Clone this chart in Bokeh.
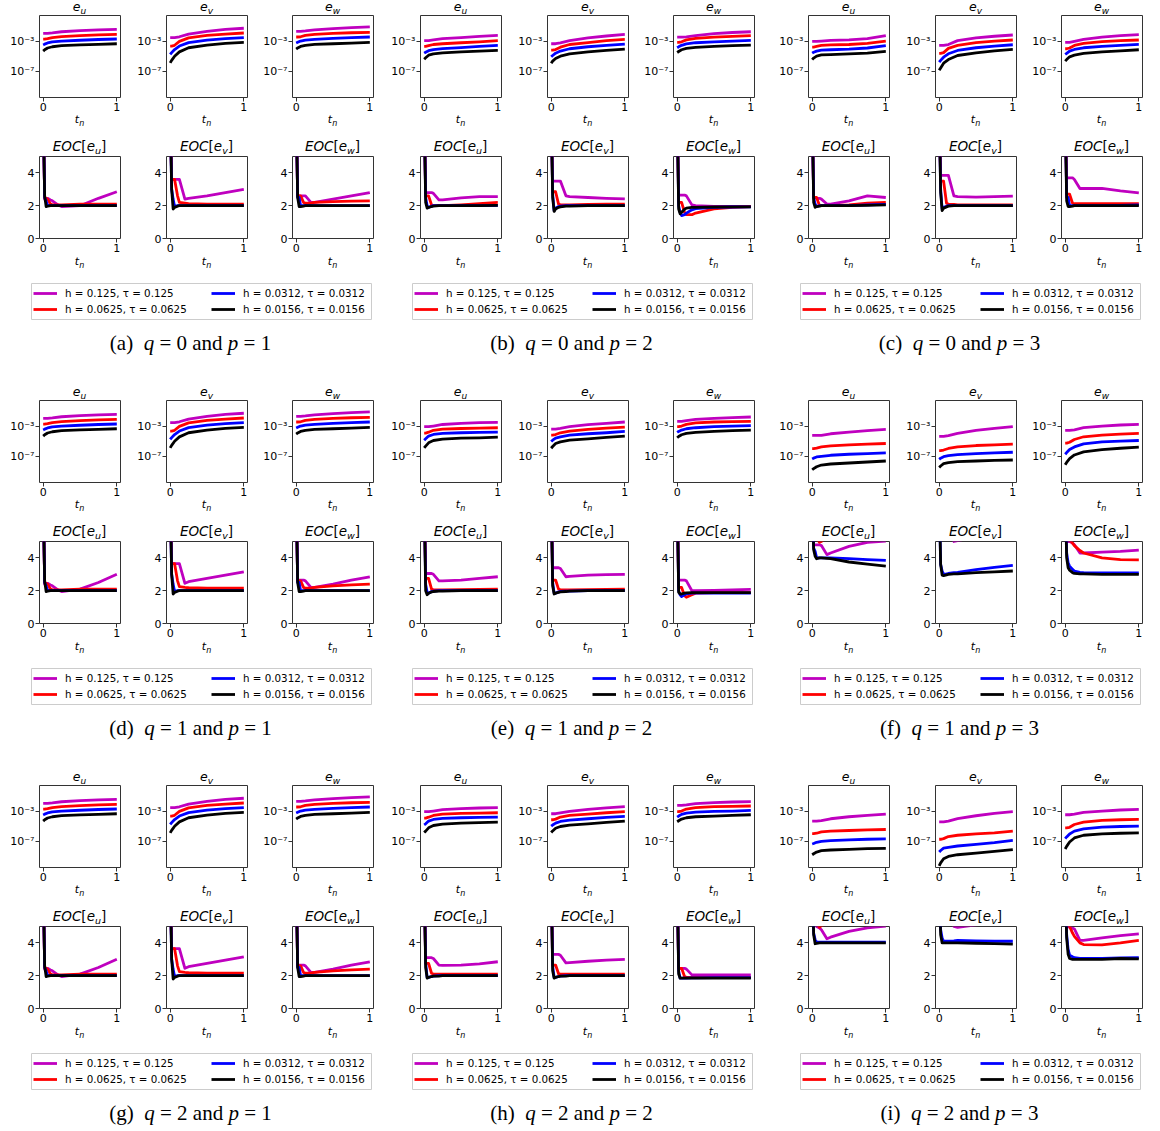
from bokeh.plotting import figure
from bokeh.models import (Range1d, FixedTicker, CustomJSTickFormatter,
                          Legend, LegendItem, Spacer, Div)
from bokeh.layouts import row, column
from bokeh.embed import file_html
from bokeh.resources import INLINE

# ---------------------------------------------------------------- data
T_LOG = [0, 0.02, 0.06, 0.125, 0.25, 0.5, 0.75, 1.0]
T_EOC = [0, 0.02, 0.04, 0.06, 0.1, 0.125, 0.2, 0.25, 0.5, 0.75, 1.0]
SERIES_LABELS = ["h = 0.125, τ = 0.125", "h = 0.0625, τ = 0.0625",
                 "h = 0.0312, τ = 0.0312", "h = 0.0156, τ = 0.0156"]
COLORS = ["#bf00bf", "#ff0000", "#0000ff", "#000000"]
VARS = ["u", "v", "w"]
LOG_TICKS = [1e-3, 1e-7]
LOG_TICK_LABELS = ["10⁻³", "10⁻⁷"]
EOC_TICKS = [0, 2, 4]
T_TICKS = [0, 1]
PANEL_KEYS = ["a", "b", "c", "d", "e", "f", "g", "h", "i"]
Q_VALUES = [0, 0, 0, 1, 1, 1, 2, 2, 2]
P_VALUES = [1, 2, 3, 1, 2, 3, 1, 2, 3]

# log10 of the errors e_u, e_v, e_w at T_LOG (rows: 4 refinement levels)
LOG_A_U = [[-2.0, -2.0, -2.0, -1.95, -1.8, -1.65, -1.57, -1.5],
           [-2.75, -2.75, -2.7, -2.55, -2.42, -2.3, -2.2, -2.13],
           [-3.5, -3.4, -3.25, -3.1, -3.0, -2.9, -2.8, -2.74],
           [-4.3, -4.13, -3.9, -3.74, -3.6, -3.5, -3.43, -3.35]]
LOG_A_V = [[-2.55, -2.55, -2.55, -2.45, -2.1, -1.75, -1.5, -1.35],
           [-3.65, -3.65, -3.55, -3.05, -2.6, -2.28, -2.1, -1.96],
           [-4.74, -4.5, -4.1, -3.65, -3.2, -2.87, -2.7, -2.57],
           [-5.83, -5.5, -4.96, -4.4, -3.87, -3.52, -3.3, -3.17]]
LOG_A_W = [[-1.74, -1.74, -1.74, -1.7, -1.57, -1.4, -1.26, -1.17],
           [-2.48, -2.48, -2.45, -2.26, -2.13, -2.0, -1.93, -1.87],
           [-3.26, -3.17, -3.0, -2.87, -2.78, -2.65, -2.56, -2.48],
           [-4.04, -3.9, -3.7, -3.57, -3.43, -3.35, -3.26, -3.17]]
LOG_B_U = [[-2.95, -2.95, -2.95, -2.85, -2.7, -2.55, -2.4, -2.26],
           [-3.7, -3.7, -3.6, -3.45, -3.35, -3.22, -3.1, -2.96],
           [-4.57, -4.45, -4.25, -4.1, -3.98, -3.85, -3.7, -3.57],
           [-5.35, -5.17, -4.83, -4.65, -4.52, -4.4, -4.3, -4.22]]
LOG_B_V = [[-3.35, -3.35, -3.35, -3.25, -2.95, -2.6, -2.35, -2.13],
           [-4.17, -4.17, -4.1, -3.8, -3.45, -3.2, -2.95, -2.78],
           [-5.04, -4.87, -4.57, -4.3, -4.0, -3.74, -3.57, -3.4],
           [-5.87, -5.6, -5.26, -4.96, -4.65, -4.4, -4.22, -4.04]]
LOG_B_W = [[-2.5, -2.5, -2.5, -2.45, -2.3, -2.05, -1.9, -1.8],
           [-3.17, -3.17, -3.1, -2.85, -2.65, -2.5, -2.4, -2.3],
           [-3.87, -3.75, -3.55, -3.38, -3.22, -3.1, -3.0, -2.91],
           [-4.48, -4.35, -4.13, -3.96, -3.83, -3.7, -3.6, -3.52]]
LOG_C_U = [[-3.04, -3.04, -3.04, -3.0, -2.92, -2.85, -2.7, -2.3],
           [-3.78, -3.78, -3.7, -3.57, -3.5, -3.45, -3.3, -3.0],
           [-4.57, -4.45, -4.3, -4.17, -4.13, -4.05, -3.9, -3.6],
           [-5.4, -5.2, -4.95, -4.8, -4.75, -4.67, -4.57, -4.35]]
LOG_C_V = [[-3.57, -3.57, -3.57, -3.45, -2.95, -2.6, -2.38, -2.22],
           [-4.6, -4.6, -4.5, -3.95, -3.57, -3.22, -3.0, -2.87],
           [-5.74, -5.5, -5.09, -4.65, -4.22, -3.87, -3.65, -3.48],
           [-6.78, -6.48, -5.87, -5.4, -4.87, -4.52, -4.26, -4.09]]
LOG_C_W = [[-3.17, -3.17, -3.17, -3.05, -2.8, -2.5, -2.3, -2.17],
           [-4.0, -4.0, -3.9, -3.57, -3.3, -3.09, -2.96, -2.87],
           [-4.74, -4.6, -4.3, -4.09, -3.87, -3.7, -3.57, -3.43],
           [-5.6, -5.4, -5.04, -4.83, -4.6, -4.4, -4.26, -4.13]]
LOG_D_U = LOG_A_U
LOG_D_V = LOG_A_V
LOG_D_W = LOG_A_W
LOG_E_U = [[-3.09, -3.09, -3.09, -3.0, -2.8, -2.65, -2.57, -2.52],
           [-3.91, -3.91, -3.8, -3.55, -3.4, -3.32, -3.27, -3.22],
           [-4.83, -4.65, -4.3, -4.09, -3.96, -3.87, -3.83, -3.78],
           [-5.83, -5.6, -5.17, -4.87, -4.7, -4.57, -4.52, -4.43]]
LOG_E_V = [[-3.39, -3.39, -3.39, -3.3, -3.09, -2.83, -2.65, -2.48],
           [-4.17, -4.17, -4.1, -3.87, -3.65, -3.43, -3.26, -3.13],
           [-5.0, -4.83, -4.57, -4.39, -4.17, -4.0, -3.87, -3.7],
           [-5.87, -5.65, -5.26, -5.04, -4.83, -4.65, -4.48, -4.3]]
LOG_E_W = [[-2.39, -2.39, -2.39, -2.3, -2.13, -2.0, -1.91, -1.83],
           [-3.09, -3.09, -3.0, -2.78, -2.6, -2.48, -2.43, -2.39],
           [-3.83, -3.7, -3.52, -3.35, -3.22, -3.09, -3.0, -2.96],
           [-4.52, -4.35, -4.13, -3.96, -3.83, -3.7, -3.6, -3.52]]
LOG_F_U = [[-4.22, -4.22, -4.22, -4.2, -4.0, -3.78, -3.6, -3.43],
           [-5.91, -5.91, -5.85, -5.7, -5.57, -5.43, -5.35, -5.26],
           [-7.26, -7.15, -7.0, -6.91, -6.78, -6.65, -6.57, -6.48],
           [-8.65, -8.5, -8.26, -8.04, -7.91, -7.78, -7.65, -7.52]]
LOG_F_V = [[-4.35, -4.35, -4.35, -4.25, -3.96, -3.57, -3.3, -3.09],
           [-6.17, -6.17, -6.1, -5.9, -5.7, -5.52, -5.43, -5.35],
           [-7.3, -7.15, -6.96, -6.83, -6.7, -6.57, -6.48, -6.39],
           [-8.35, -8.17, -7.87, -7.74, -7.6, -7.52, -7.43, -7.39]]
LOG_F_W = [[-3.57, -3.57, -3.57, -3.5, -3.22, -3.0, -2.87, -2.78],
           [-5.22, -5.22, -5.1, -4.74, -4.39, -4.17, -4.04, -3.96],
           [-6.65, -6.43, -6.04, -5.7, -5.3, -5.04, -4.96, -4.87],
           [-8.0, -7.7, -7.22, -6.74, -6.35, -6.04, -5.87, -5.74]]
LOG_G_U = LOG_A_U
LOG_G_V = LOG_A_V
LOG_G_W = LOG_A_W
LOG_H_U = [[-3.09, -3.09, -3.09, -3.0, -2.83, -2.7, -2.61, -2.57],
           [-3.91, -3.91, -3.8, -3.57, -3.39, -3.3, -3.26, -3.22],
           [-4.78, -4.65, -4.3, -4.09, -3.96, -3.87, -3.83, -3.78],
           [-5.78, -5.6, -5.17, -4.87, -4.7, -4.57, -4.5, -4.43]]
LOG_H_V = [[-3.35, -3.35, -3.35, -3.25, -3.05, -2.8, -2.6, -2.43],
           [-4.13, -4.13, -4.05, -3.78, -3.57, -3.39, -3.22, -3.09],
           [-4.96, -4.8, -4.57, -4.35, -4.17, -4.0, -3.83, -3.7],
           [-5.78, -5.57, -5.22, -5.0, -4.83, -4.65, -4.48, -4.3]]
LOG_H_W = [[-2.26, -2.26, -2.26, -2.2, -2.04, -1.91, -1.83, -1.78],
           [-3.09, -3.09, -3.0, -2.74, -2.57, -2.43, -2.39, -2.35],
           [-3.78, -3.65, -3.43, -3.26, -3.13, -3.04, -3.0, -2.91],
           [-4.39, -4.26, -4.04, -3.87, -3.74, -3.65, -3.57, -3.48]]
LOG_I_U = [[-4.3, -4.3, -4.3, -4.25, -4.0, -3.74, -3.57, -3.39],
           [-5.91, -5.91, -5.87, -5.7, -5.6, -5.52, -5.43, -5.39],
           [-7.26, -7.2, -7.04, -6.91, -6.83, -6.74, -6.65, -6.6],
           [-8.65, -8.52, -8.3, -8.13, -8.04, -7.96, -7.87, -7.83]]
LOG_I_V = [[-4.39, -4.39, -4.39, -4.3, -3.98, -3.61, -3.3, -3.09],
           [-6.65, -6.65, -6.57, -6.3, -6.13, -5.96, -5.83, -5.6],
           [-8.3, -8.1, -7.8, -7.7, -7.52, -7.3, -7.09, -6.78],
           [-10.1, -9.7, -9.17, -8.87, -8.65, -8.43, -8.22, -8.0]]
LOG_I_W = [[-3.48, -3.48, -3.48, -3.4, -3.17, -3.0, -2.87, -2.78],
           [-5.17, -5.17, -5.1, -4.74, -4.43, -4.22, -4.13, -4.09],
           [-6.57, -6.35, -5.96, -5.6, -5.3, -5.09, -5.0, -4.96],
           [-7.91, -7.57, -7.0, -6.48, -6.13, -5.96, -5.87, -5.83]]

# EOC[e_u], EOC[e_v], EOC[e_w] at T_EOC
EOC_A_U = [[8, 2.4, 2.45, 2.45, 2.35, 2.3, 2.05, 1.95, 2.0, 2.45, 2.85],
           [8, 2.5, 2.45, 2.4, 2.1, 2.05, 2.05, 2.05, 2.1, 2.1, 2.1],
           [8, 2.5, 2.3, 2.0, 2.0, 2.0, 2.0, 2.0, 2.0, 2.0, 2.0],
           [8, 2.6, 1.95, 1.97, 2.0, 2.0, 2.0, 2.0, 2.0, 2.0, 2.0]]
EOC_A_V = [[8, 3.6, 3.6, 3.6, 3.6, 3.6, 2.4, 2.45, 2.6, 2.8, 3.0],
           [8, 3.6, 3.6, 3.6, 2.6, 2.2, 2.15, 2.12, 2.1, 2.1, 2.1],
           [8, 3.0, 2.4, 1.95, 2.0, 2.0, 2.0, 2.0, 2.0, 2.0, 2.0],
           [8, 3.0, 1.8, 1.9, 1.97, 2.0, 2.0, 2.0, 2.0, 2.0, 2.0]]
EOC_A_W = [[8, 2.6, 2.6, 2.6, 2.6, 2.6, 2.2, 2.2, 2.4, 2.6, 2.8],
           [8, 2.6, 2.6, 2.6, 2.2, 2.15, 2.15, 2.2, 2.25, 2.28, 2.3],
           [8, 2.5, 2.5, 2.0, 2.0, 2.0, 2.0, 2.0, 2.0, 2.0, 2.0],
           [8, 2.5, 1.95, 1.95, 1.98, 2.0, 2.0, 2.0, 2.0, 2.0, 2.0]]
EOC_B_U = [[8, 2.8, 2.8, 2.8, 2.8, 2.75, 2.35, 2.35, 2.48, 2.55, 2.55],
           [8, 2.6, 2.6, 2.6, 2.05, 2.0, 2.0, 2.0, 2.05, 2.12, 2.2],
           [8, 2.5, 2.0, 1.9, 1.97, 2.0, 2.0, 2.0, 2.0, 2.0, 2.02],
           [8, 2.2, 1.85, 1.9, 1.95, 1.97, 2.0, 2.0, 2.0, 2.0, 2.02]]
EOC_B_V = [[8, 3.5, 3.5, 3.5, 3.5, 3.5, 2.6, 2.55, 2.5, 2.45, 2.42],
           [8, 2.85, 2.85, 2.85, 2.1, 2.05, 2.05, 2.05, 2.08, 2.1, 2.1],
           [8, 2.7, 1.7, 1.85, 1.95, 1.97, 2.0, 2.0, 2.0, 2.0, 2.0],
           [8, 2.5, 1.65, 1.8, 1.9, 1.93, 1.97, 1.98, 2.0, 2.0, 2.0]]
EOC_B_W = [[8, 2.65, 2.65, 2.65, 2.65, 2.6, 2.05, 2.0, 1.95, 1.95, 1.95],
           [8, 2.2, 2.2, 2.2, 1.6, 1.45, 1.45, 1.55, 1.8, 1.9, 1.95],
           [8, 2.0, 1.6, 1.4, 1.45, 1.55, 1.75, 1.82, 1.9, 1.92, 1.93],
           [8, 1.8, 1.5, 1.6, 1.78, 1.85, 1.9, 1.9, 1.92, 1.93, 1.93]]
EOC_C_U = [[8, 2.5, 2.5, 2.45, 2.45, 2.4, 2.1, 2.1, 2.3, 2.6, 2.5],
           [8, 2.5, 2.5, 2.5, 2.0, 2.0, 2.0, 2.0, 2.05, 2.15, 2.2],
           [8, 2.5, 2.1, 1.95, 2.0, 2.0, 2.0, 2.0, 2.0, 2.05, 2.08],
           [8, 2.2, 1.9, 1.95, 1.97, 2.0, 2.0, 2.0, 2.0, 2.02, 2.05]]
EOC_C_V = [[8, 3.85, 3.85, 3.85, 3.85, 3.85, 2.6, 2.55, 2.52, 2.55, 2.58],
           [8, 3.5, 3.5, 3.5, 2.15, 2.1, 2.08, 2.05, 2.05, 2.05, 2.05],
           [8, 3.0, 1.8, 1.9, 1.97, 2.0, 2.0, 2.0, 2.0, 2.0, 2.0],
           [8, 2.8, 1.7, 1.85, 1.93, 1.97, 2.0, 2.0, 2.0, 2.0, 2.0]]
EOC_C_W = [[8, 3.7, 3.7, 3.7, 3.7, 3.6, 3.05, 3.05, 3.05, 2.9, 2.78],
           [8, 2.7, 2.7, 2.7, 2.15, 2.12, 2.12, 2.12, 2.12, 2.12, 2.12],
           [8, 2.5, 2.5, 2.0, 2.0, 2.0, 2.0, 2.0, 2.0, 2.02, 2.05],
           [8, 2.3, 1.95, 1.95, 1.97, 2.0, 2.0, 2.0, 2.0, 2.0, 2.0]]
EOC_D_U = [[8, 2.4, 2.45, 2.45, 2.35, 2.3, 2.05, 1.95, 2.1, 2.5, 3.0],
           [8, 2.5, 2.45, 2.4, 2.1, 2.05, 2.05, 2.05, 2.1, 2.1, 2.1],
           [8, 2.5, 2.3, 2.0, 2.0, 2.0, 2.0, 2.0, 2.0, 2.0, 2.0],
           [8, 2.6, 1.95, 1.97, 2.0, 2.0, 2.0, 2.0, 2.0, 2.0, 2.0]]
EOC_D_V = [[8, 3.65, 3.65, 3.65, 3.65, 3.65, 2.45, 2.55, 2.75, 2.95, 3.15],
           [8, 3.65, 3.65, 3.65, 2.6, 2.25, 2.2, 2.18, 2.15, 2.15, 2.15],
           [8, 3.0, 2.4, 1.95, 2.0, 2.0, 2.0, 2.0, 2.0, 2.0, 2.0],
           [8, 3.0, 1.8, 1.9, 1.97, 2.0, 2.0, 2.0, 2.0, 2.0, 2.0]]
EOC_D_W = [[8, 2.65, 2.65, 2.65, 2.65, 2.6, 2.2, 2.2, 2.4, 2.65, 2.85],
           [8, 2.6, 2.6, 2.6, 2.2, 2.15, 2.15, 2.2, 2.3, 2.35, 2.4],
           [8, 2.5, 2.5, 2.0, 2.0, 2.0, 2.0, 2.0, 2.0, 2.0, 2.0],
           [8, 2.5, 1.95, 1.95, 1.98, 2.0, 2.0, 2.0, 2.0, 2.0, 2.0]]
EOC_E_U = [[8, 3.05, 3.05, 3.05, 3.05, 3.0, 2.6, 2.6, 2.65, 2.75, 2.85],
           [8, 2.75, 2.75, 2.75, 2.1, 2.05, 2.05, 2.05, 2.07, 2.08, 2.1],
           [8, 2.4, 1.9, 1.85, 1.95, 1.97, 2.0, 2.0, 2.0, 2.0, 2.0],
           [8, 2.0, 1.75, 1.85, 1.93, 1.95, 1.97, 1.98, 2.0, 2.0, 2.0]]
EOC_E_V = [[8, 3.4, 3.4, 3.4, 3.4, 3.35, 2.85, 2.87, 2.95, 2.98, 3.0],
           [8, 2.65, 2.65, 2.65, 2.1, 2.05, 2.05, 2.05, 2.07, 2.08, 2.1],
           [8, 2.5, 1.85, 1.85, 1.93, 1.95, 1.97, 1.98, 2.0, 2.0, 2.0],
           [8, 2.3, 1.8, 1.85, 1.9, 1.93, 1.95, 1.97, 2.0, 2.0, 2.0]]
EOC_E_W = [[8, 2.65, 2.65, 2.65, 2.65, 2.6, 2.0, 2.0, 2.02, 2.05, 2.08],
           [8, 2.2, 2.2, 2.2, 1.7, 1.6, 1.75, 1.85, 1.88, 1.88, 1.88],
           [8, 2.0, 1.75, 1.65, 1.75, 1.8, 1.85, 1.85, 1.85, 1.85, 1.85],
           [8, 1.9, 1.8, 1.8, 1.85, 1.87, 1.88, 1.88, 1.88, 1.88, 1.88]]
EOC_F_U = [[8, 4.8, 4.8, 4.8, 4.8, 4.75, 4.2, 4.3, 4.7, 4.95, 5.02],
           [8, 6.0, 5.6, 5.2, 4.95, 5.0, 5.3, 5.5, 5.6, 5.7, 5.8],
           [8, 4.6, 4.4, 4.0, 4.0, 4.0, 4.0, 4.0, 3.95, 3.9, 3.85],
           [8, 4.5, 4.1, 3.95, 4.0, 4.0, 3.97, 3.95, 3.75, 3.62, 3.5]]
EOC_F_V = [[8, 6.0, 6.0, 6.0, 6.0, 5.8, 5.0, 5.05, 5.3, 5.4, 5.5],
           [8, 6.5, 6.5, 6.5, 6.5, 6.5, 6.5, 6.5, 6.5, 6.5, 6.5],
           [8, 3.6, 3.2, 3.0, 3.02, 3.05, 3.1, 3.12, 3.28, 3.42, 3.55],
           [8, 3.6, 2.95, 2.92, 2.97, 3.0, 3.02, 3.03, 3.1, 3.15, 3.2]]
EOC_F_W = [[8, 5.0, 5.0, 5.0, 4.9, 4.8, 4.3, 4.3, 4.35, 4.4, 4.48],
           [8, 6.0, 5.5, 5.1, 4.9, 4.75, 4.45, 4.3, 4.0, 3.9, 3.88],
           [8, 4.3, 3.7, 3.5, 3.3, 3.2, 3.12, 3.1, 3.08, 3.08, 3.08],
           [8, 4.0, 3.4, 3.25, 3.1, 3.05, 3.02, 3.02, 3.0, 3.0, 3.0]]
EOC_G_U = EOC_D_U
EOC_G_V = EOC_D_V
EOC_G_W = EOC_D_W
EOC_H_U = [[8, 3.1, 3.1, 3.1, 3.1, 3.05, 2.65, 2.63, 2.65, 2.72, 2.85],
           [8, 2.75, 2.75, 2.75, 2.15, 2.1, 2.1, 2.1, 2.1, 2.1, 2.1],
           [8, 2.8, 1.9, 1.9, 1.95, 1.97, 2.0, 2.0, 2.0, 2.0, 2.0],
           [8, 2.5, 1.85, 1.9, 1.95, 1.97, 1.98, 2.0, 2.0, 2.0, 2.0]]
EOC_H_V = [[8, 3.3, 3.3, 3.3, 3.3, 3.25, 2.78, 2.8, 2.88, 2.95, 3.0],
           [8, 2.65, 2.65, 2.65, 2.12, 2.1, 2.1, 2.1, 2.1, 2.1, 2.1],
           [8, 2.6, 1.9, 1.9, 1.95, 1.97, 2.0, 2.0, 2.0, 2.0, 2.0],
           [8, 2.3, 1.85, 1.9, 1.95, 1.97, 1.98, 2.0, 2.0, 2.0, 2.0]]
EOC_H_W = [[8, 2.45, 2.45, 2.45, 2.45, 2.4, 2.05, 2.05, 2.05, 2.05, 2.05],
           [8, 2.45, 2.45, 2.45, 1.95, 1.9, 1.9, 1.9, 1.9, 1.9, 1.9],
           [8, 2.3, 1.85, 1.85, 1.85, 1.85, 1.87, 1.87, 1.88, 1.88, 1.88],
           [8, 2.1, 1.85, 1.85, 1.85, 1.85, 1.85, 1.85, 1.85, 1.85, 1.85]]
EOC_I_U = [[8, 5.5, 5.2, 5.0, 4.9, 4.8, 4.25, 4.35, 4.7, 4.92, 5.02],
           [8, 6.0, 5.6, 5.2, 4.95, 5.05, 5.2, 5.3, 5.4, 5.5, 5.6],
           [8, 4.6, 4.2, 4.05, 4.05, 4.05, 4.05, 4.05, 4.05, 4.05, 4.05],
           [8, 4.5, 3.95, 3.97, 4.0, 4.0, 4.0, 4.0, 4.0, 4.0, 4.0]]
EOC_I_V = [[8, 6.0, 6.0, 6.0, 6.0, 5.8, 5.0, 4.95, 5.1, 5.2, 5.3],
           [8, 6.5, 6.5, 6.5, 6.5, 6.5, 6.5, 6.5, 6.5, 6.5, 6.5],
           [8, 4.8, 4.3, 4.1, 4.1, 4.1, 4.12, 4.15, 4.12, 4.1, 4.1],
           [8, 4.5, 4.0, 4.0, 4.0, 4.0, 4.0, 4.0, 3.98, 3.95, 3.92]]
EOC_I_W = [[8, 5.2, 5.0, 4.95, 4.9, 4.85, 4.15, 4.15, 4.3, 4.45, 4.55],
           [8, 5.5, 5.2, 5.0, 4.6, 4.4, 4.0, 3.9, 3.88, 4.0, 4.15],
           [8, 4.5, 3.6, 3.25, 3.15, 3.1, 3.05, 3.05, 3.05, 3.08, 3.1],
           [8, 4.3, 3.3, 3.05, 3.0, 3.0, 3.0, 3.0, 3.0, 3.05, 3.02]]

LOG_DATA = [[LOG_A_U, LOG_A_V, LOG_A_W], [LOG_B_U, LOG_B_V, LOG_B_W], [LOG_C_U, LOG_C_V, LOG_C_W],
            [LOG_D_U, LOG_D_V, LOG_D_W], [LOG_E_U, LOG_E_V, LOG_E_W], [LOG_F_U, LOG_F_V, LOG_F_W],
            [LOG_G_U, LOG_G_V, LOG_G_W], [LOG_H_U, LOG_H_V, LOG_H_W], [LOG_I_U, LOG_I_V, LOG_I_W]]
EOC_DATA = [[EOC_A_U, EOC_A_V, EOC_A_W], [EOC_B_U, EOC_B_V, EOC_B_W], [EOC_C_U, EOC_C_V, EOC_C_W],
            [EOC_D_U, EOC_D_V, EOC_D_W], [EOC_E_U, EOC_E_V, EOC_E_W], [EOC_F_U, EOC_F_V, EOC_F_W],
            [EOC_G_U, EOC_G_V, EOC_G_W], [EOC_H_U, EOC_H_V, EOC_H_W], [EOC_I_U, EOC_I_V, EOC_I_W]]

# ---------------------------------------------------------------- style
FONT = "DejaVu Sans"
FRAME = "#333333"
LINE_W = 2.8
LOG_FMT = CustomJSTickFormatter(args=dict(tvals=LOG_TICKS, tlabels=LOG_TICK_LABELS), code="""
let best = 0, bd = Infinity;
for (let i = 0; i < tvals.length; i++) {
  const d = Math.abs(Math.log10(tick) - Math.log10(tvals[i]));
  if (d < bd) { bd = d; best = i; }
}
return tlabels[best];
""")


def sub(s, size, drop=3):
    return (f'<span style="font-size:{size}px;font-style:italic;position:relative;'
            f'top:{drop}px">{s}</span>')


def text_div(html, width, height, size, lh):
    return Div(text=html, width=width, height=height, margin=0,
               styles={"font-family": FONT, "font-size": f"{size}px",
                       "line-height": f"{lh}px", "text-align": "center",
                       "white-space": "nowrap", "color": "black",
                       "overflow": "visible"})


def over_frame(bl, div, height):
    kids = [Spacer(width=bl, height=height), div, Spacer(width=126 - bl - 81, height=height)]
    return row(*kids, spacing=0)


def style_axes(p, yticks):
    p.grid.visible = False
    p.outline_line_color = FRAME
    p.outline_line_width = 1
    p.background_fill_color = "white"
    p.border_fill_color = "white"
    for ax in (p.xaxis[0], p.yaxis[0]):
        ax.axis_line_color = None
        ax.major_tick_in = 0
        ax.major_tick_out = 4
        ax.major_tick_line_color = FRAME
        ax.minor_tick_line_color = None
        ax.major_label_text_font = FONT
        ax.major_label_text_font_size = "11px"
        ax.major_label_text_color = "black"
        ax.major_label_standoff = 1
    p.xaxis[0].ticker = FixedTicker(ticks=T_TICKS, minor_ticks=[])
    p.yaxis[0].ticker = FixedTicker(ticks=yticks, minor_ticks=[])


def sub_plot(kind, col, var, series):
    bl = 39 if col == 0 else 40
    common = dict(width=126, height=103, x_range=Range1d(-0.05, 1.05),
                  min_border_left=bl, min_border_right=126 - 81 - bl,
                  min_border_top=1, min_border_bottom=20,
                  output_backend="svg", toolbar_location=None)
    if kind == "log":
        p = figure(y_range=Range1d(10 ** -10.3, 10 ** 0.3), y_axis_type="log", **common)
        style_axes(p, LOG_TICKS)
        p.yaxis[0].formatter = LOG_FMT
        for vals, c in zip(series, COLORS):
            p.line(T_LOG, [10 ** v for v in vals], line_color=c, line_width=LINE_W,
                   line_join="round")
        title = text_div(f"<i>e</i>{sub(var, 9)}", 81, 14, 12.5, 13)
        tn = text_div(f"<i>t</i>{sub('n', 8)}", 81, 23, 11, 6)
        return column(over_frame(bl, title, 14), p, over_frame(bl, tn, 23), spacing=0)
    p = figure(y_range=Range1d(0, 5), **common)
    style_axes(p, EOC_TICKS)
    for vals, c in zip(series, COLORS):
        p.line(T_EOC, vals, line_color=c, line_width=LINE_W, line_join="round")
    title = text_div(f"<i>EOC</i>[<i>e</i>{sub(var, 9.5, 2.5)}]", 81, 15, 13.5, 13)
    tn = text_div(f"<i>t</i>{sub('n', 8)}", 81, 17, 11, 8)
    return column(over_frame(bl, title, 15), p, over_frame(bl, tn, 17), spacing=0)


def legend_plot(width):
    p = figure(width=width, height=52, x_range=Range1d(0, 1), y_range=Range1d(0, 1),
               x_axis_location=None, y_axis_location=None,
               min_border_left=31, min_border_right=width - 31 - 340,
               min_border_top=8, min_border_bottom=8,
               output_backend="svg", toolbar_location=None)
    p.grid.visible = False
    p.outline_line_color = "#cccccc"
    p.outline_line_width = 1
    rends = [p.line(x=[0], y=[0], line_color=c, line_width=LINE_W) for c in COLORS]
    for idx, loc in (((0, 1), (2, 3)), ((2, 3), (180, 3))):
        leg = Legend(items=[LegendItem(label=SERIES_LABELS[i], renderers=[rends[i]]) for i in idx],
                     location=loc, orientation="vertical", border_line_color=None,
                     background_fill_alpha=0, padding=0, margin=0, spacing=2,
                     glyph_width=24, glyph_height=14, label_height=14, label_standoff=8,
                     label_text_font=FONT, label_text_font_size="10.3px",
                     label_text_baseline="middle", label_text_color="black")
        p.add_layout(leg)
    return p


def panel(k, width, cap_h):
    logs = [sub_plot("log", j, VARS[j], LOG_DATA[k][j]) for j in range(3)]
    eocs = [sub_plot("eoc", j, VARS[j], EOC_DATA[k][j]) for j in range(3)]
    extra = width - 378
    r1 = row(*logs, Spacer(width=extra, height=140), spacing=0)
    r2 = row(*eocs, Spacer(width=extra, height=135), spacing=0)
    cap = Div(text=f"({PANEL_KEYS[k]})&nbsp; <i>q</i> = {Q_VALUES[k]} and <i>p</i> = {P_VALUES[k]}",
              width=381, height=cap_h, margin=0,
              styles={"font-family": "Liberation Serif", "font-size": "21px",
                      "line-height": "24px", "text-align": "center", "color": "black",
                      "padding-top": "4px", "white-space": "nowrap"})
    kids = [cap]
    if width - 381 > 0:
        kids.append(Spacer(width=width - 381, height=cap_h))
    r4 = row(*kids, spacing=0)
    return column(r1, r2, legend_plot(width), r4, spacing=0)


WIDTHS = [380, 388, 381]
rows = []
for r in range(3):
    cap_h = 58 if r < 2 else 22
    rows.append(row(*[panel(3 * r + c, WIDTHS[c], cap_h) for c in range(3)], spacing=0))
root = column(*rows, spacing=0)

open("out.html", "w").write(file_html(root, INLINE))
